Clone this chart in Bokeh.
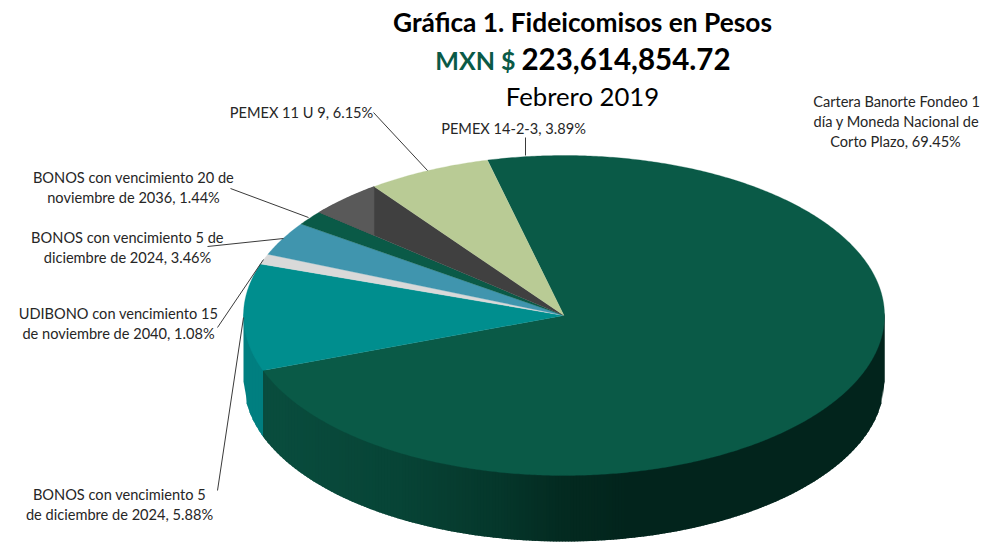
import numpy as np
from bokeh.plotting import figure
from bokeh.embed import file_html
from bokeh.resources import INLINE
from bokeh.core.properties import value

# Slice shares (percent of the full circle), clockwise
slice_names = ["Cartera Banorte", "BONOS 2024 (5.88)", "UDIBONO 2040", "BONOS 2024 (3.46)",
               "BONOS 2036", "PEMEX 14-2-3", "PEMEX 11 U 9"]
slice_shares = [73.25, 10.80, 1.03, 3.44, 1.47, 3.75, 6.25]
slice_colors = ["#0A5A47", "#008E8E", "#D9D9D9", "#4095AE", "#0A5A47", "#404040", "#B9CB95"]

label_lines = ["Cartera Banorte Fondeo 1", "día y Moneda Nacional de", "Corto Plazo, 69.45%",
               "PEMEX 11 U 9, 6.15%", "PEMEX 14-2-3, 3.89%",
               "BONOS con vencimiento 20 de", "noviembre de 2036, 1.44%",
               "BONOS con vencimiento 5 de", "diciembre de 2024, 3.46%",
               "UDIBONO con vencimiento 15", "de noviembre de 2040, 1.08%",
               "BONOS con vencimiento 5", "de diciembre de 2024, 5.88%"]
label_x = [896, 896, 895, 301, 513, 133, 133, 127, 127, 118, 118, 119, 119]
label_y = [101, 121, 141, 112, 128, 177, 197, 237, 257, 313, 333, 494, 514]

leader_x = [[373, 427], [525, 525], [230, 308], [207, 283], [217, 263], [217, 243]]
leader_y = [[112, 170], [137, 155], [188, 217], [246, 238], [327, 259], [490, 317]]

title_main = "Gráfica 1. Fideicomisos en Pesos"
title_cur = "MXN $"
title_amt = "223,614,854.72"
title_date = "Febrero 2019"

# Geometry of the 3D pie, in page pixels
cx, cy, rx, ry, depth = 563.5, 315.0, 320.5, 160.0, 66.0
start_deg = -13.8

wall_stop_x = [262, 397, 497, 563, 630, 884]
wall_stop_c = [(9, 77, 62), (7, 68, 54), (5, 55, 43), (3, 42, 32), (2, 36, 28), (2, 36, 28)]
teal_wall = "#007F80"
grey_light = "#595959"


def rim(deg):
    t = np.radians(deg)
    return cx + rx * np.sin(t), cy - ry * np.cos(t)


def half(x):
    return ry * np.sqrt(max(0.0, 1 - ((x - cx) / rx) ** 2))


def hexc(c):
    return "#%02x%02x%02x" % tuple(int(round(v)) for v in c)


edges = start_deg + np.concatenate([[0], np.cumsum(slice_shares)]) * 3.6

p = figure(width=985, height=542, x_range=(0, 985), y_range=(542, 0),
           output_backend="svg", toolbar_location=None, min_border=0,
           background_fill_color="white",
           border_fill_color="white", outline_line_color=None)
p.axis.visible = False
p.grid.visible = False

# Side wall: overlapping strips painted left to right, so no seams show
wall_end_x = rim(edges[1])[0]
xs_edges = np.arange(cx - rx, cx + rx + 0.01, 3.0)
xs_edges = np.unique(np.concatenate([xs_edges, [wall_end_x, cx + rx]]))
wx, wy, wc = [], [], []
for a, b in zip(xs_edges[:-1], xs_edges[1:]):
    b2 = min(b + 2.0, cx + rx)
    if a < wall_end_x:
        b2 = min(b2, wall_end_x + 1.0)
    ya, yb = cy + half(a), cy + half(b2)
    wx.append([a, b2, b2, a])
    wy.append([ya - 3, yb - 3, yb + depth, ya + depth])
    mid = (a + b) / 2
    if mid < wall_end_x:
        wc.append(teal_wall)
    else:
        wc.append(hexc([np.interp(mid, wall_stop_x, [s[i] for s in wall_stop_c]) for i in range(3)]))
p.patches(wx, wy, fill_color=wc, line_color=None)

# Top surface
for i, col in enumerate(slice_colors):
    ts = np.linspace(edges[i], edges[i + 1], max(4, int((edges[i + 1] - edges[i]) * 2)))
    px, py = rim(ts)
    p.patch(np.r_[cx, px], np.r_[cy, py], fill_color=col, line_color=col, line_width=0.3)

# Lighter part of the PEMEX 14-2-3 slice, left of its far rim point
ts = np.linspace(edges[5], edges[6], 30)
gx, gy = rim(ts)
cross_y = gy[0] + (gx[-1] - gx[0]) / (cx - gx[0]) * (cy - gy[0])
p.patch(np.r_[gx, gx[-1]], np.r_[gy, cross_y], fill_color=grey_light, line_color=grey_light, line_width=0.3)

# Leader lines
p.multi_line(leader_x, leader_y, line_color="#3a3a3a", line_width=1)

# Labels
font = value("Lato")
p.text(label_x, label_y, text=label_lines, text_font=font, text_font_size="14.6px",
       text_color="#262626", text_align="center", text_baseline="middle")

p.text([582], [21], text=[title_main], text_font=font, text_font_size="26.3px", text_font_style="bold",
       text_color="#000000", text_align="center", text_baseline="middle")
p.text([515], [59], text=[title_cur], text_font=font, text_font_size="25px", text_font_style="bold",
       text_color="#0A5A47", text_align="right", text_baseline="middle")
p.text([521], [58], text=[title_amt], text_font=font, text_font_size="29.5px", text_font_style="bold",
       text_color="#000000", text_align="left", text_baseline="middle")
p.text([582], [95], text=[title_date], text_font=font, text_font_size="25.7px",
       text_color="#000000", text_align="center", text_baseline="middle")

open("out.html", "w").write(file_html(p, INLINE))
